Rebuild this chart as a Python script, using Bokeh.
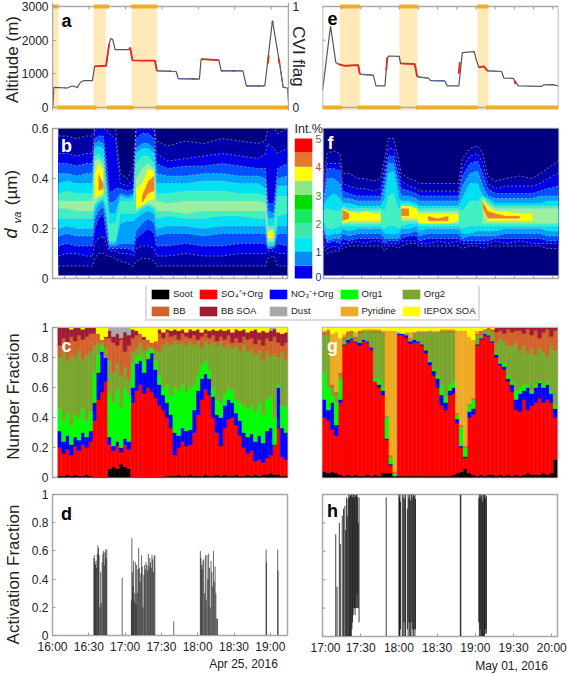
from math import pi, nan
from bokeh.plotting import figure
from bokeh.layouts import column, row
from bokeh.models import Range1d, LinearAxis, FixedTicker, Label, Legend, LegendItem
from bokeh.embed import file_html
from bokeh.resources import INLINE

FONT = "Liberation Sans"
GRAY = "#a8a8a8"
TXT = "#222222"

# ---------- time axes (minutes after the first tick) ----------
left_ticks_t = [0, 30, 60, 90, 120, 150, 180]
left_ticks_l = ["16:00", "16:30", "17:00", "17:30", "18:00", "18:30", "19:00"]
right_ticks_t = [0, 30, 60, 90, 120, 150, 180]
right_ticks_l = ["17:00", "17:30", "18:00", "18:30", "19:00", "19:30", "20:00"]
LEFT_END = 194.2
RIGHT_END = 184.5

# ---------- altitude ----------
a_t = [0.3,1.1,12.1,16.3,20.4,23.1,25.9,32.8,34.7,44.1,46.6,47.9,49.6,51.5,63.1,63.9,65.8,84.3,85.9,101.7,103.6,120.9,122.3,136.9,138.8,156.7,159.5,174.7,181,187,189.8,193.4,194.2]
a_alt = [0,600,580,640,600,750,800,800,1220,1240,1880,2050,2020,1720,1720,1780,1400,1390,1090,1070,855,845,1435,1405,1090,1090,640,640,2585,1290,600,580,200]
a_red_t = [34.7,44.1,46.6,nan,63.1,63.9,65.8,84.3,85.9,nan,122.3,136.9,nan,177.2,178,nan,180.6,181.6,nan,186,186.8,nan,10,11,nan,20.4,21.2,nan,96,97.2,nan,115,116.2,nan,139,140,nan,148,150,nan,160,161,nan,169,170]
a_red_alt = [1220,1240,1880,nan,1720,1780,1400,1390,1090,nan,1435,1405,nan,1300,1550,nan,2500,2560,nan,1450,1300,nan,585,585,nan,600,600,nan,1080,1080,nan,850,850,nan,1090,1090,nan,1090,1090,nan,640,640,nan,640,640]
a_blue_t = [86,101,nan,104,120,nan,139,156,nan,160,174,nan,187,189.8]
a_blue_alt = [1090,1070,nan,855,845,nan,1090,1090,nan,640,640,nan,1290,600]
a_flag_on = [(0,5.2),(34,46.5),(64.5,86.5)]
a_flag_off = [(3.9,36),(44.6,66.7),(85,194.2)]
a_shade = [(0,5.2),(33.6,44),(65,86)]

e_t = [0,6.3,10.4,12.3,17.5,27.9,29.2,39.7,41.8,48.8,50.6,52.1,60,61,72.2,74,82.7,84.5,95.7,97.5,106.6,109.3,118.6,120.4,122.3,126.2,128.9,140,141.8,149.1,153.1,171.4,172.7,180.5,184.5]
e_alt = [500,2420,1340,1290,1240,1260,990,960,640,640,1480,1530,1520,1310,1290,915,875,800,790,640,640,1630,1660,1390,1190,1220,1090,1070,875,865,640,630,670,680,630]
e_red_t = [12.3,17.5,27.9,29.2,nan,49.8,50.6,nan,61,72.2,74,nan,106.4,107.4,nan,122.3,126.2,128.9,nan,150,150.8]
e_red_alt = [1290,1240,1260,990,nan,1100,1480,nan,1310,1290,915,nan,1000,1350,nan,1190,1220,1090,nan,800,700]
e_blue_t = [30,39,nan,75,82,nan,84.5,95,nan,129,140]
e_blue_alt = [980,960,nan,900,875,nan,800,790,nan,1090,1070]
e_flag_on = [(13.6,29.2),(60,74.4),(121,129.8)]
e_flag_off = [(0,15),(27.7,61),(73,121.4),(128,184.5)]
e_shade = [(13.6,29.2),(60,74.4),(121,129.8)]

# ---------- size distributions, contour band edges in 0.01 um ----------
b_t = [5,12,20,28,33,35,38,42,45,47,52,56,62,67,69,74,79,84,86,95,110,125,140,155,170,176,178,183,186,194]
b_l1_lo = [5,5,5,5,5, 8,10,10,9, 9,8, 7,6,5, 7,8,8,7, 5,5,5,5,5,5,5,5, 8,9, 5,5]
b_l1_hi = [57,57,56,57,57, 60,60,60,60, 60,60, 42,40,45, 60,60,60,60, 55,53,55,54,56,55,54,55, 60,60, 58,60]
b_l2_lo = [9,10,10,9,9, 14,16,17,13, 11,11, 10,10,9, 12,13,13,12, 9,9,10,9,9,10,10,10, 11,11, 10,10]
b_l2_hi = [50,50,49,50,50, 60,60,60,59, 58,56, 38,37,40, 60,60,60,60, 50,47,48,49,50,49,48,50, 54,52, 50,52]
b_l3_lo = [13,14,13,13,13, 20,24,26,16, 12,12, 12,12,11, 16,18,20,18, 13,13,14,13,13,14,14,14, 12,12, 14,13]
b_l3_hi = [46,46,45,46,46, 56,57,57,45, 34,36, 36,35,36, 56,58,58,56, 46,44,45,45,46,45,44,44, 30,30, 44,46]
b_l4_lo = [17,18,17,17,17, 24,27,29,20, 13,13, 14,14,14, 19,22,24,22, 17,18,18,17,18,18,18,18, 12,13, 18,18]
b_l4_hi = [42,42,41,42,42, 54,55,54,38, 30,31, 34,33,34, 52,54,54,52, 42,41,41,42,42,41,41,40, 27,26, 40,41]
b_l5_lo = [20,21,20,20,20, 27,30,31,24, 14,14, 22,23,23, 24,26,27,26, 20,21,21,20,21,21,21,21, 13,13, 21,21]
b_l5_hi = [38,39,38,38,38, 52,53,52,34, 26,26, 33,32,33, 50,52,52,50, 38,38,38,39,39,38,38,36, 24,24, 37,37]
b_l6_lo = [24,24,24,24,24, 29,31,32,28, 15,15, 26,26,26, 26,28,29,28, 24,25,24,24,25,25,24,24, 14,14, 25,26]
b_l6_hi = [34,35,34,34,34, 49,50,48,31, 22,22, 31,31,31, 46,49,49,46, 34,34,35,35,35,34,34,33, 21,21, 33,33]
b_l7_lo = [28,28,27,27,27, 30,32,33,30, 16,16, 28,28,28, 27,29,30,29, 27,27,26,27,27,27,27,27, 15,15, 28,28]
b_l7_hi = [31,31,31,31,31, 47,48,46,30, 16,16, 28,28,28, 40,44,46,44, 31,30,31,31,31,31,31,30, 20,20, 28,28]
b_l8_lo = [0,0,0,0,0, 32,33,34,0, 0,0, 0,0,0, 28,29,31,32, 0,0,0,0,0,0,0,0, 16,16, 0,0]
b_l8_hi = [0,0,0,0,0, 42,46,44,0, 0,0, 0,0,0, 36,38,44,43, 0,0,0,0,0,0,0,0, 19,19, 0,0]
b_l9_lo = [0,0,0,0,0, 0,35,36,0, 0,0, 0,0,0, 0,30,34,35, 0,0,0,0,0,0,0,0, 0,0, 0,0]
b_l9_hi = [0,0,0,0,0, 0,42,38,0, 0,0, 0,0,0, 0,33,39,41, 0,0,0,0,0,0,0,0, 0,0, 0,0]

f_t = [0,3,8,13,15,20,27,33,39,45,48,51,55,59,61,67,73,75,82,90,98,106,109,115,121,125,129,135,143,154,164,170,176,184.5]
f_l1_lo = [13,10,11,11,12, 13,13,13,13,13, 11,13,13,12, 13,14,14, 13,13,13,13,13, 12,13,13,12, 13,13,13,13,13,13,12,12]
f_l1_hi = [40,50,51,50,42, 42,40,40,39,40, 48,56,56,48, 42,40,39, 38,38,38,38,38, 48,52,53,50, 41,39,40,41,40,42,44,47]
f_l2_lo = [15,12,13,12,14, 14,15,14,15,15, 13,14,14,14, 15,15,15, 14,14,15,14,15, 14,14,14,14, 14,15,14,15,14,14,14,14]
f_l2_hi = [36,46,46,46,38, 37,36,36,35,36, 44,52,52,44, 39,37,36, 35,35,35,35,35, 44,49,50,46, 38,36,37,37,37,38,40,42]
f_l3_lo = [18,14,15,14,16, 15,16,16,16,16, 14,15,15,15, 16,17,17, 15,16,16,16,16, 15,15,15,15, 15,16,16,16,16,16,15,15]
f_l3_hi = [32,44,44,43,35, 34,33,33,33,33, 41,49,49,41, 36,35,34, 33,33,33,33,33, 41,46,47,42, 36,34,34,34,34,35,36,37]
f_l4_lo = [20,15,16,16,18, 17,18,18,18,18, 16,16,16,16, 18,18,19, 17,18,18,18,18, 16,17,17,17, 17,17,18,18,18,18,17,17]
f_l4_hi = [30,40,40,38,32, 32,31,31,31,31, 37,46,46,37, 33,33,32, 31,31,31,31,31, 37,42,43,37, 33,32,32,32,32,33,33,33]
f_l5_lo = [21,17,18,18,20, 19,20,20,20,20, 18,18,18,18, 20,20,21, 19,20,20,20,20, 18,18,19,19, 19,19,20,20,20,20,19,19]
f_l5_hi = [29,32,34,32,30, 30,29,29,29,29, 32,42,43,32, 31,31,30, 29,29,29,29,29, 32,38,38,33, 32,30,30,30,30,30,31,31]
f_l6_lo = [23,20,20,21,21, 21,21,21,21,21, 20,21,21,20, 21,22,22, 21,21,21,21,21, 20,21,21,21, 21,21,21,21,21,21,21,21]
f_l6_hi = [27,28,27,27,29, 28,28,28,28,28, 27,33,34,27, 30,30,29, 28,28,28,28,28, 27,31,31,33, 31,29,29,29,29,29,29,29]
f_l7_lo = [25,25,25,25,22, 22,22,22,22,22, 25,26,26,25, 23,23,23, 22,22,22,22,22, 25,26,26,22, 22,22,22,22,22,22,22,22]
f_l7_hi = [25,25,25,25,28, 27,27,27,27,27, 25,26,26,25, 29,29,28, 27,27,27,27,27, 25,26,26,32, 30,28,28,28,28,28,28,28]
f_l8_lo = [0,0,0,0,22, 23,23,23,23,23, 0,0,0,0, 24,24,24, 22,22,22,22,23, 0,0,0,27, 23,23,23,23,23,0,0,0]
f_l8_hi = [0,0,0,0,28, 27,26,27,26,26, 0,0,0,0, 29,29,28, 26,26,26,26,26, 0,0,0,32, 29,27,27,26,26,0,0,0]
f_l9_lo = [0,0,0,0,23, 24,0,0,0,0, 0,0,0,0, 25,25,0, 0,23,23,23,0, 0,0,0,28, 24,24,24,24,0,0,0,0]
f_l9_hi = [0,0,0,0,27.5, 26,0,0,0,0, 0,0,0,0, 28,28,0, 0,25,24,25,0, 0,0,0,31, 27,26,25,25,0,0,0,0]

band_colors = ["#0000a8", "#0000e6", "#0050ff", "#00a0ff", "#00e0f0", "#40f0c0", "#98f0a0", "#ffff00", "#f08020"]
cbar_colors = ["#0000ee", "#0a8cf5", "#00e8f0", "#40e8a8", "#18e860", "#00dd00", "#88e888", "#ffff00", "#e07830", "#ff0000"]
cbar_labels = ["0", "1", "2", "3", "4", "5"]
cbar_label_colors = ["#2030a0", "#2030a0", "#20a040", "#20a040", "#c04020", "#666666"]

# ---------- number fractions, cumulative tops in percent ----------
c_soot = [1,1,2,1,2,1,1,2,1,0, 0,0,0,6,7,6,9,7,6,0, 0,0,0,0,0,0,0,0,1,1, 1,2,1,1,2,1,1,1,2,1, 1,2,1,2,1,1,2,1,1,2, 1,2,1,2,2,3,2,2,1,1]
c_so4 = [20,16,19,15,21,18,22,20,24,38, 52,57,64,22,18,21,17,22,19,50, 58,62,56,60,57,53,48,45,40,33, 15,20,24,21,22,30,42,52,59,55, 40,30,21,33,39,40,35,28,20,16, 18,11,12,10,13,15,22,33,14,12]
c_no3 = [31,24,28,22,27,25,30,27,31,50, 70,84,80,27,21,24,20,26,24,60, 76,78,70,79,83,72,62,55,50,42, 30,28,33,31,32,45,58,66,69,66, 54,42,40,48,52,50,43,38,30,27, 29,24,28,23,31,33,22,60,33,30]
c_org1 = [46,38,43,35,42,40,46,38,44,70, 82,88,80,56,50,58,47,60,55,76, 80,82,78,84,86,78,68,60,62,55, 60,58,62,57,60,62,68,75,78,72, 60,52,50,56,60,58,52,50,48,46, 48,44,50,42,52,54,40,62,48,47]
c_org2 = [80,84,78,82,80,85,79,82,84,88, 90,90,86,78,70,76,68,74,66,84, 86,90,85,88,87,85,84,88,90,88, 91,89,90,88,91,89,90,87,91,89, 90,88,91,87,89,86,88,85,89,84, 86,82,85,79,84,81,83,80,84,79]
c_bb = [88,93,90,94,91,95,92,94,96,96, 96,96,93,93,90,88,92,84,88,93, 95,96,92,93,90,91,96,93,97,94, 95,92,96,94,93,95,92,94,96,93, 95,91,94,92,95,90,93,90,94,92, 93,89,92,88,93,91,94,90,88,90]
c_bbsoa = [100,100,100,99,100,100,99,100,100,100, 96,92,94,98,94,96,93,97,95,99, 98,96,94,92,90,91,99,97,99,98, 99,98,99,97,99,98,99,97,99,98, 99,98,99,98,99,97,99,98,99,97, 98,99,97,98,97,98,99,97,96,97]
c_dust = [100,100,100,99,100,100,99,100,100,100, 96,92,94,100,100,100,100,100,100,99, 98,96,94,92,90,91,99,97,99,98, 99,98,99,97,99,98,99,97,99,98, 99,98,99,98,99,97,99,98,99,97, 98,99,97,98,97,100,100,97,96,97]
c_pyr = c_dust

g_soot = [4,3,4,3,2,1,2,1,2,1, 1,2,1,2,1,3,3,3,4,1, 1,1,1,1,1,1,1,1,1,1, 1,1,1,2,3,4,6,3,2,1, 2,1,2,2,1,2,1,2,1,2, 1,2,3,2,2,2,3,2,3,12]
g_so4 = [40,38,32,28,50,88,90,92,90,88, 91,90,85,64,60,55,25,8,1,95, 95,93,89,90,90,88,83,75,68,60, 48,45,55,56,36,20,13,40,42,88, 92,95,94,90,80,75,72,64,57,45, 44,52,45,48,50,53,50,52,50,40]
g_no3 = [52,45,50,35,52,89,92,93,91,90, 92,91,87,64,62,58,26,9,1,96, 96,95,91,92,91,89,85,77,71,66, 55,50,58,60,39,21,14,44,46,89, 93,96,95,91,82,76,74,66,62,52, 56,58,60,56,60,63,60,62,56,46]
g_org1 = [70,60,55,50,65,89,92,93,91,90, 92,91,87,66,66,60,40,14,3,96, 96,95,91,92,91,89,85,78,72,68, 62,54,62,64,42,34,20,48,52,89, 93,96,95,91,83,77,76,68,64,58, 60,62,62,58,62,64,62,64,58,48]
g_org2 = [95,96,60,55,68,92,95,97,92,96, 97,98,97,97,97,96,40,14,3,97, 96,96,93,97,97,97,97,98,97,97, 97,97,97,97,42,34,20,48,52,95, 95,98,98,97,90,93,91,88,88,90, 85,88,83,86,82,87,84,81,88,85]
g_bb = [97,98,62,57,70,94,97,98,94,98, 98,98,98,98,98,97,41,15,4,97, 96,96,93,97,97,97,97,98,97,97, 98,98,98,98,43,35,21,49,53,96, 98,99,100,99,97,98,96,99,97,98, 98,96,99,95,98,93,97,99,94,98]
g_bbsoa = [97,98,62,57,70,94,97,98,94,98, 98,98,98,98,98,97,41,15,4,97, 96,96,93,97,97,97,97,98,97,97, 98,98,98,98,43,35,21,49,53,96, 98,99,100,99,100,100,100,100,100,100, 100,100,100,100,100,100,100,100,100,100]
g_dust = g_bbsoa
g_pyr = [98,99,96,97,93,96,98,98,97,98, 99,99,99,99,99,98,98,98,98,97, 96,97,97,97,98,98,98,98,98,98, 99,99,99,99,98,98,98,94,92,98, 98,99,100,99,100,100,100,100,100,100, 100,100,100,100,100,100,100,100,100,100]

species = ["Soot", "SO\u2084\u207c+Org", "NO\u2083\u207b+Org", "Org1", "Org2", "BB", "BB SOA", "Dust", "Pyridine", "IEPOX SOA"]
species_colors = ["#000000", "#ff0000", "#0000ff", "#00ff00", "#7aa62e", "#d2622a", "#a01c32", "#a8a8a8", "#eeaa22", "#ffff00"]

# ---------- activation fractions ----------
d_t = [34.2,34.6,35,35.5,36,36.5,37,37.5,38,38.5,39.2,39.8,40.3,41,41.6,42.2,42.8,43.3,43.9,44.4,44.9,
       57.6,
       65.2,65.6,66,66.5,67,67.5,68,68.5,69,69.5,70,70.6,71.2,71.8,72.4,73,73.6,74.2,74.8,75.5,76.1,76.7,77.3,78,78.6,79.2,79.8,80.4,81,81.6,82.2,82.8,83.4,84,84.6,
       100.2,
       122.2,122.7,123.2,123.7,124.3,125,125.7,126.4,127,127.7,128.4,129,129.7,130.4,131,131.7,132.4,133,133.7,134.4,135,135.7,136.4,
       176.5,176.8,186.1,186.4]
d_v = [.55,.57,.52,.5,.53,.48,.58,.64,.62,.57,.2,.45,.23,.52,.58,.6,.5,.59,.61,.55,.61,
       .41,
       .25,.69,.45,.35,.53,.24,.3,.52,.22,.5,.3,.47,.62,.48,.38,.44,.57,.49,.2,.43,.5,.47,.52,.5,.46,.58,.49,.55,.52,.48,.57,.54,.45,.56,.57,
       .1,
       .6,.55,.5,.47,.53,.54,.3,.57,.25,.57,.4,.58,.48,.2,.53,.45,.35,.6,.38,.49,.3,.12,.12,
       .61,.52,.61,.46]
h_t = [10.4,11.4,13.2,14,15.5,16.5,17.5,18.2,18.8,19.4,20,20.6,21.1,21.6,22.1,22.6,23.1,23.6,24.1,24.6,25.1,25.6,26.1,26.6,27.1,27.6,28.1,28.7,
       50,
       60,60.4,60.8,61.2,62.6,63.4,64,64.6,65.2,66.6,67.2,67.8,68.4,69,69.6,70.2,70.8,71.4,72,72.6,73,
       108.2,108.6,
       122.7,123.2,123.7,124.2,124.7,125.2,125.7,126.2,126.7,127.2,127.7,128.2,128.7]
h_lo = [0,0,0,0,0,0,0,0,0,0,0,0,0,0,0,0,.05,.1,.15,.2,.2,.15,.2,.2,.3,.2,.2,.1,
        0,
        0,0,0,.05,0,0,.1,0,0,.05,0,.1,0,0,.1,0,.05,0,.05,0,.05,
        0,0,
        .1,0,.05,0,0,0,0,0,0,0,.02,.05,.02]
h_hi = [.72,.35,.8,.65,.85,.9,.92,.75,.98,.85,.97,1,.98,1,.99,1,1,.98,1,1,.98,1,.99,1,1,.98,.8,.98,
        .98,
        1,.98,1,.95,1,.98,1,.97,1,.9,1,.98,1,.96,1,1,.98,1,.99,1,.97,
        1,1,
        .98,1,.97,1,.99,1,.95,1,.98,1,1,.97,.99]

# ---------- helpers ----------
def mk(cw, ch, left, top, fw, fh, xr, yr):
    p = figure(width=cw, height=ch, frame_width=fw, frame_height=fh,
               min_border_left=left, min_border_right=cw - left - fw,
               min_border_top=top, min_border_bottom=ch - top - fh,
               x_range=Range1d(*xr), y_range=Range1d(*yr),
               toolbar_location=None, output_backend="svg",
               x_axis_type=None, y_axis_type=None, background_fill_color="white")
    p.grid.visible = False
    p.outline_line_color = GRAY
    p.outline_line_width = 1.5
    return p

def axis(p, side, ticks, labels, y_range_name=None):
    a = LinearAxis(ticker=FixedTicker(ticks=list(ticks)))
    a.major_label_overrides = {t: labels[i] for i, t in enumerate(ticks)}
    a.major_label_text_font = FONT
    a.major_label_text_font_size = "12px"
    a.major_label_text_color = TXT
    a.major_label_standoff = 4
    a.axis_line_color = GRAY
    a.major_tick_line_color = "#999999"
    a.major_tick_in = 3
    a.major_tick_out = 0
    a.minor_tick_line_color = None
    if y_range_name:
        a.y_range_name = y_range_name
    p.add_layout(a, side)
    return a

def xticks(p, vals, y, dy):
    p.segment(x0=vals, x1=vals, y0=y, y1=y + dy, line_color="#999999", line_width=1)

def yticks(p, vals, x, dx):
    p.segment(x0=x, x1=x + dx, y0=vals, y1=vals, line_color="#999999", line_width=1)

def altitude(p, t, alt, rt, ralt, bt, balt, on, off, shade, xmax):
    p.quad(left=[s[0] for s in shade], right=[s[1] for s in shade], bottom=-89, top=3000,
           fill_color="#ffe9b8", line_color="#fff4dc", line_width=1)
    p.line(t, alt, line_color="#555555", line_width=1.2)
    p.line(bt, balt, line_color="#5566aa", line_width=1.1)
    p.line(rt, ralt, line_color="#e8281c", line_width=1.8)
    p.quad(left=0, right=xmax, bottom=0, top=3000, fill_color=None, line_color=GRAY, line_width=1.5)
    p.segment(x0=[s[0] for s in on], x1=[s[1] for s in on], y0=1, y1=1, y_range_name="flag",
              line_color="#efae28", line_width=4)
    p.segment(x0=[s[0] for s in off], x1=[s[1] for s in off], y0=0, y1=0, y_range_name="flag",
              line_color="#efae28", line_width=4)

def bands(p, t, levels):
    for (lo, hi), col in zip(levels, band_colors):
        runs, cur = [], []
        for i in range(len(t)):
            if hi[i] > lo[i]:
                cur.append(i)
            elif cur:
                runs.append(cur)
                cur = []
        if cur:
            runs.append(cur)
        for r in runs:
            if len(r) < 2:
                continue
            p.varea(x=[t[i] for i in r], y1=[lo[i] / 100 for i in r], y2=[hi[i] / 100 for i in r], fill_color=col)
    for lo, hi in levels:
        for edge in (lo, hi):
            y = [(v / 100 if h > l else nan) for v, l, h in zip(edge, lo, hi)]
            p.line(t, y, line_color="#c8c8c8", line_alpha=0.65, line_width=0.8, line_dash="2 2")

def stack(p, t, w, tops):
    prev = [0] * len(t)
    for top, col in zip(tops, species_colors):
        p.vbar(x=t, width=w, bottom=prev, top=top, fill_color=col, line_color=col, line_width=0.5)
        prev = top
    p.vbar(x=t, width=w, bottom=prev, top=[100] * len(t), fill_color=species_colors[-1],
           line_color=species_colors[-1], line_width=0.5)

# ---------- top row ----------
y_alt = (-89, 3119)
a = mk(310, 122, 52, 2, 236, 108, (0, LEFT_END), y_alt)
a.outline_line_color = None
a.extra_y_ranges = {"flag": Range1d(-89 / 3000, 3119 / 3000)}
altitude(a, a_t, a_alt, a_red_t, a_red_alt, a_blue_t, a_blue_alt, a_flag_on, a_flag_off, a_shade, LEFT_END)
axis(a, "left", [0, 1000, 2000, 3000], ["0", "1000", "2000", "3000"])
axis(a, "right", [0, 1], ["0", "1"], y_range_name="flag")
xticks(a, left_ticks_t, 3000, -90)

e = mk(257, 122, 12, 2, 236, 108, (0, RIGHT_END), y_alt)
e.outline_line_color = None
e.extra_y_ranges = {"flag": Range1d(-89 / 3000, 3119 / 3000)}
altitude(e, e_t, e_alt, e_red_t, e_red_alt, e_blue_t, e_blue_alt, e_flag_on, e_flag_off, e_shade, RIGHT_END)
xticks(e, [15 * i for i in range(13)], 3000, -90)
yticks(e, [1000, 2000], 0, 2.5)

# ---------- size distributions ----------
b = mk(290, 164, 52, 6, 235, 150, (0, LEFT_END), (0, 0.6))
b.quad(left=4.8, right=LEFT_END, bottom=0.012, top=0.6, fill_color="#00007f", line_color=None)
bands(b, b_t, [(b_l1_lo, b_l1_hi), (b_l2_lo, b_l2_hi), (b_l3_lo, b_l3_hi), (b_l4_lo, b_l4_hi), (b_l5_lo, b_l5_hi),
               (b_l6_lo, b_l6_hi), (b_l7_lo, b_l7_hi), (b_l8_lo, b_l8_hi), (b_l9_lo, b_l9_hi)])
axis(b, "left", [0, 0.2, 0.4, 0.6], ["0", "0.2", "0.4", "0.6"])
xticks(b, [10 * i for i in range(20)], 0, 0.01)

# colour scale: same frame height as its neighbours, so the row keeps the panels level
cb = mk(32, 164, 4, 6, 18, 150, (0, 1), (0.035, 5.355))
cb.outline_line_color = None
cb.quad(left=0, right=1, bottom=[i * 0.5 for i in range(10)], top=[(i + 1) * 0.5 for i in range(10)],
        fill_color=cbar_colors, line_color=None)

f = mk(245, 164, 1, 6, 235, 150, (0, RIGHT_END), (0, 0.6))
f.quad(left=0, right=RIGHT_END, bottom=0.012, top=0.6, fill_color="#00007f", line_color=None)
bands(f, f_t, [(f_l1_lo, f_l1_hi), (f_l2_lo, f_l2_hi), (f_l3_lo, f_l3_hi), (f_l4_lo, f_l4_hi), (f_l5_lo, f_l5_hi),
               (f_l6_lo, f_l6_hi), (f_l7_lo, f_l7_hi), (f_l8_lo, f_l8_hi), (f_l9_lo, f_l9_hi)])
xticks(f, [15 * i for i in range(13)], 0, 0.01)

# ---------- legend ----------
leg = mk(567, 36, 0, 0, 567, 36, (0, 1), (0, 1))
leg.outline_line_color = None
dummies = [leg.vbar(x=[5], top=[5], bottom=[4], width=1, fill_color=c_, line_color=None) for c_ in species_colors]
legend = Legend(items=[LegendItem(label=species[i], renderers=[dummies[i]]) for i in range(10)],
                orientation="horizontal", ncols=5, location=(145, 1),
                glyph_width=22, glyph_height=12, label_standoff=2, spacing=4, padding=2, margin=0,
                label_text_font=FONT, label_text_font_size="9.5px", label_text_color=TXT,
                label_height=13, border_line_color="#bbbbbb", border_line_width=2)
leg.add_layout(legend)

# ---------- number fraction ----------
c_t = [4.4 + 3.17 * (i + 0.5) for i in range(len(c_so4))]
c = mk(310, 162, 52, 5, 235, 150, (0, LEFT_END), (0, 100))
stack(c, c_t, 3.17, [c_soot, c_so4, c_no3, c_org1, c_org2, c_bb, c_bbsoa, c_dust, c_pyr])
axis(c, "left", [0, 20, 40, 60, 80, 100], ["0", "0.2", "0.4", "0.6", "0.8", "1"])

g_t = [1.53 + 3.07 * i for i in range(len(g_so4))]
g = mk(257, 162, 12, 5, 235, 150, (0, RIGHT_END), (0, 100))
stack(g, g_t, 3.07, [g_soot, g_so4, g_no3, g_org1, g_org2, g_bb, g_bbsoa, g_dust, g_pyr])

# ---------- activation fraction ----------
d = mk(310, 190, 52, 10, 235, 141, (0, LEFT_END), (0, 1))
d.segment(x0=d_t, x1=d_t, y0=0, y1=d_v, line_color="#000000", line_alpha=0.6, line_width=1)
axis(d, "left", [0, 0.2, 0.4, 0.6, 0.8, 1], ["0", "0.2", "0.4", "0.6", "0.8", "1"])
axis(d, "below", left_ticks_t, left_ticks_l)

h = mk(257, 190, 12, 10, 235, 142, (0, RIGHT_END), (0, 1))
h.segment(x0=h_t, x1=h_t, y0=h_lo, y1=h_hi, line_color="#000000", line_alpha=0.75, line_width=1)
yticks(h, [0.2, 0.4, 0.6, 0.8], 0, 2.5)
axis(h, "below", right_ticks_t, right_ticks_l)

# ---------- transparent sheet over the page that carries the free texts ----------
sheet = figure(width=567, height=674, frame_width=567, frame_height=674,
               min_border_left=0, min_border_right=0, min_border_top=0, min_border_bottom=0,
               x_range=Range1d(0, 567), y_range=Range1d(674, 0), toolbar_location=None,
               output_backend="svg", x_axis_type=None, y_axis_type=None,
               background_fill_color=None, border_fill_color=None,
               styles={"position": "absolute", "left": "0px", "top": "0px", "pointer-events": "none"})
sheet.grid.visible = False
sheet.outline_line_color = None

def lab(x, y, text, size=17, color=TXT, angle=0, style="normal", align="center"):
    sheet.add_layout(Label(x=x, y=y, text=text, text_font=FONT, text_font_size=f"{size}px", text_color=color,
                           angle=angle, text_font_style=style, text_align=align, text_baseline="middle"))

lab(12, 59, "Altitude (m)", angle=pi / 2)
lab(298, 56, "CVI flag", angle=-pi / 2)
lab(10, 233, "d", angle=pi / 2, style="italic", size=18)
lab(16, 217, "va", angle=pi / 2, style="italic", size=11)
lab(11, 187, "(\u00b5m)", angle=pi / 2)
lab(13, 396, "Number Fraction", angle=pi / 2)
lab(13, 574, "Activation Fraction", angle=pi / 2)
lab(243, 663, "Apr 25, 2016", size=12)
lab(511, 665, "May 01, 2016", size=12)
lab(294, 128, "Int.%", size=12.5, align="left")
for txt, col, yy in zip(cbar_labels, cbar_label_colors, [276, 251, 223, 195, 166, 138]):
    lab(315, yy, txt, size=10.5, color=col, align="left")
for txt, col, xx, yy in [("a", "black", 66, 20), ("e", "black", 332, 18), ("b", "white", 66, 145), ("f", "white", 330, 142),
                         ("c", "white", 66, 345), ("g", "white", 332, 345), ("d", "black", 66, 513), ("h", "black", 332, 510)]:
    lab(xx, yy, txt, size=18, color=col, style="bold")

page = column(row(a, e), row(b, cb, f), leg, row(c, g), row(d, h))
root = column(page, sheet, width=567, height=674, sizing_mode="fixed",
              styles={"position": "absolute", "left": "0px", "top": "0px"})
open("out.html", "w").write(file_html(root, INLINE))
